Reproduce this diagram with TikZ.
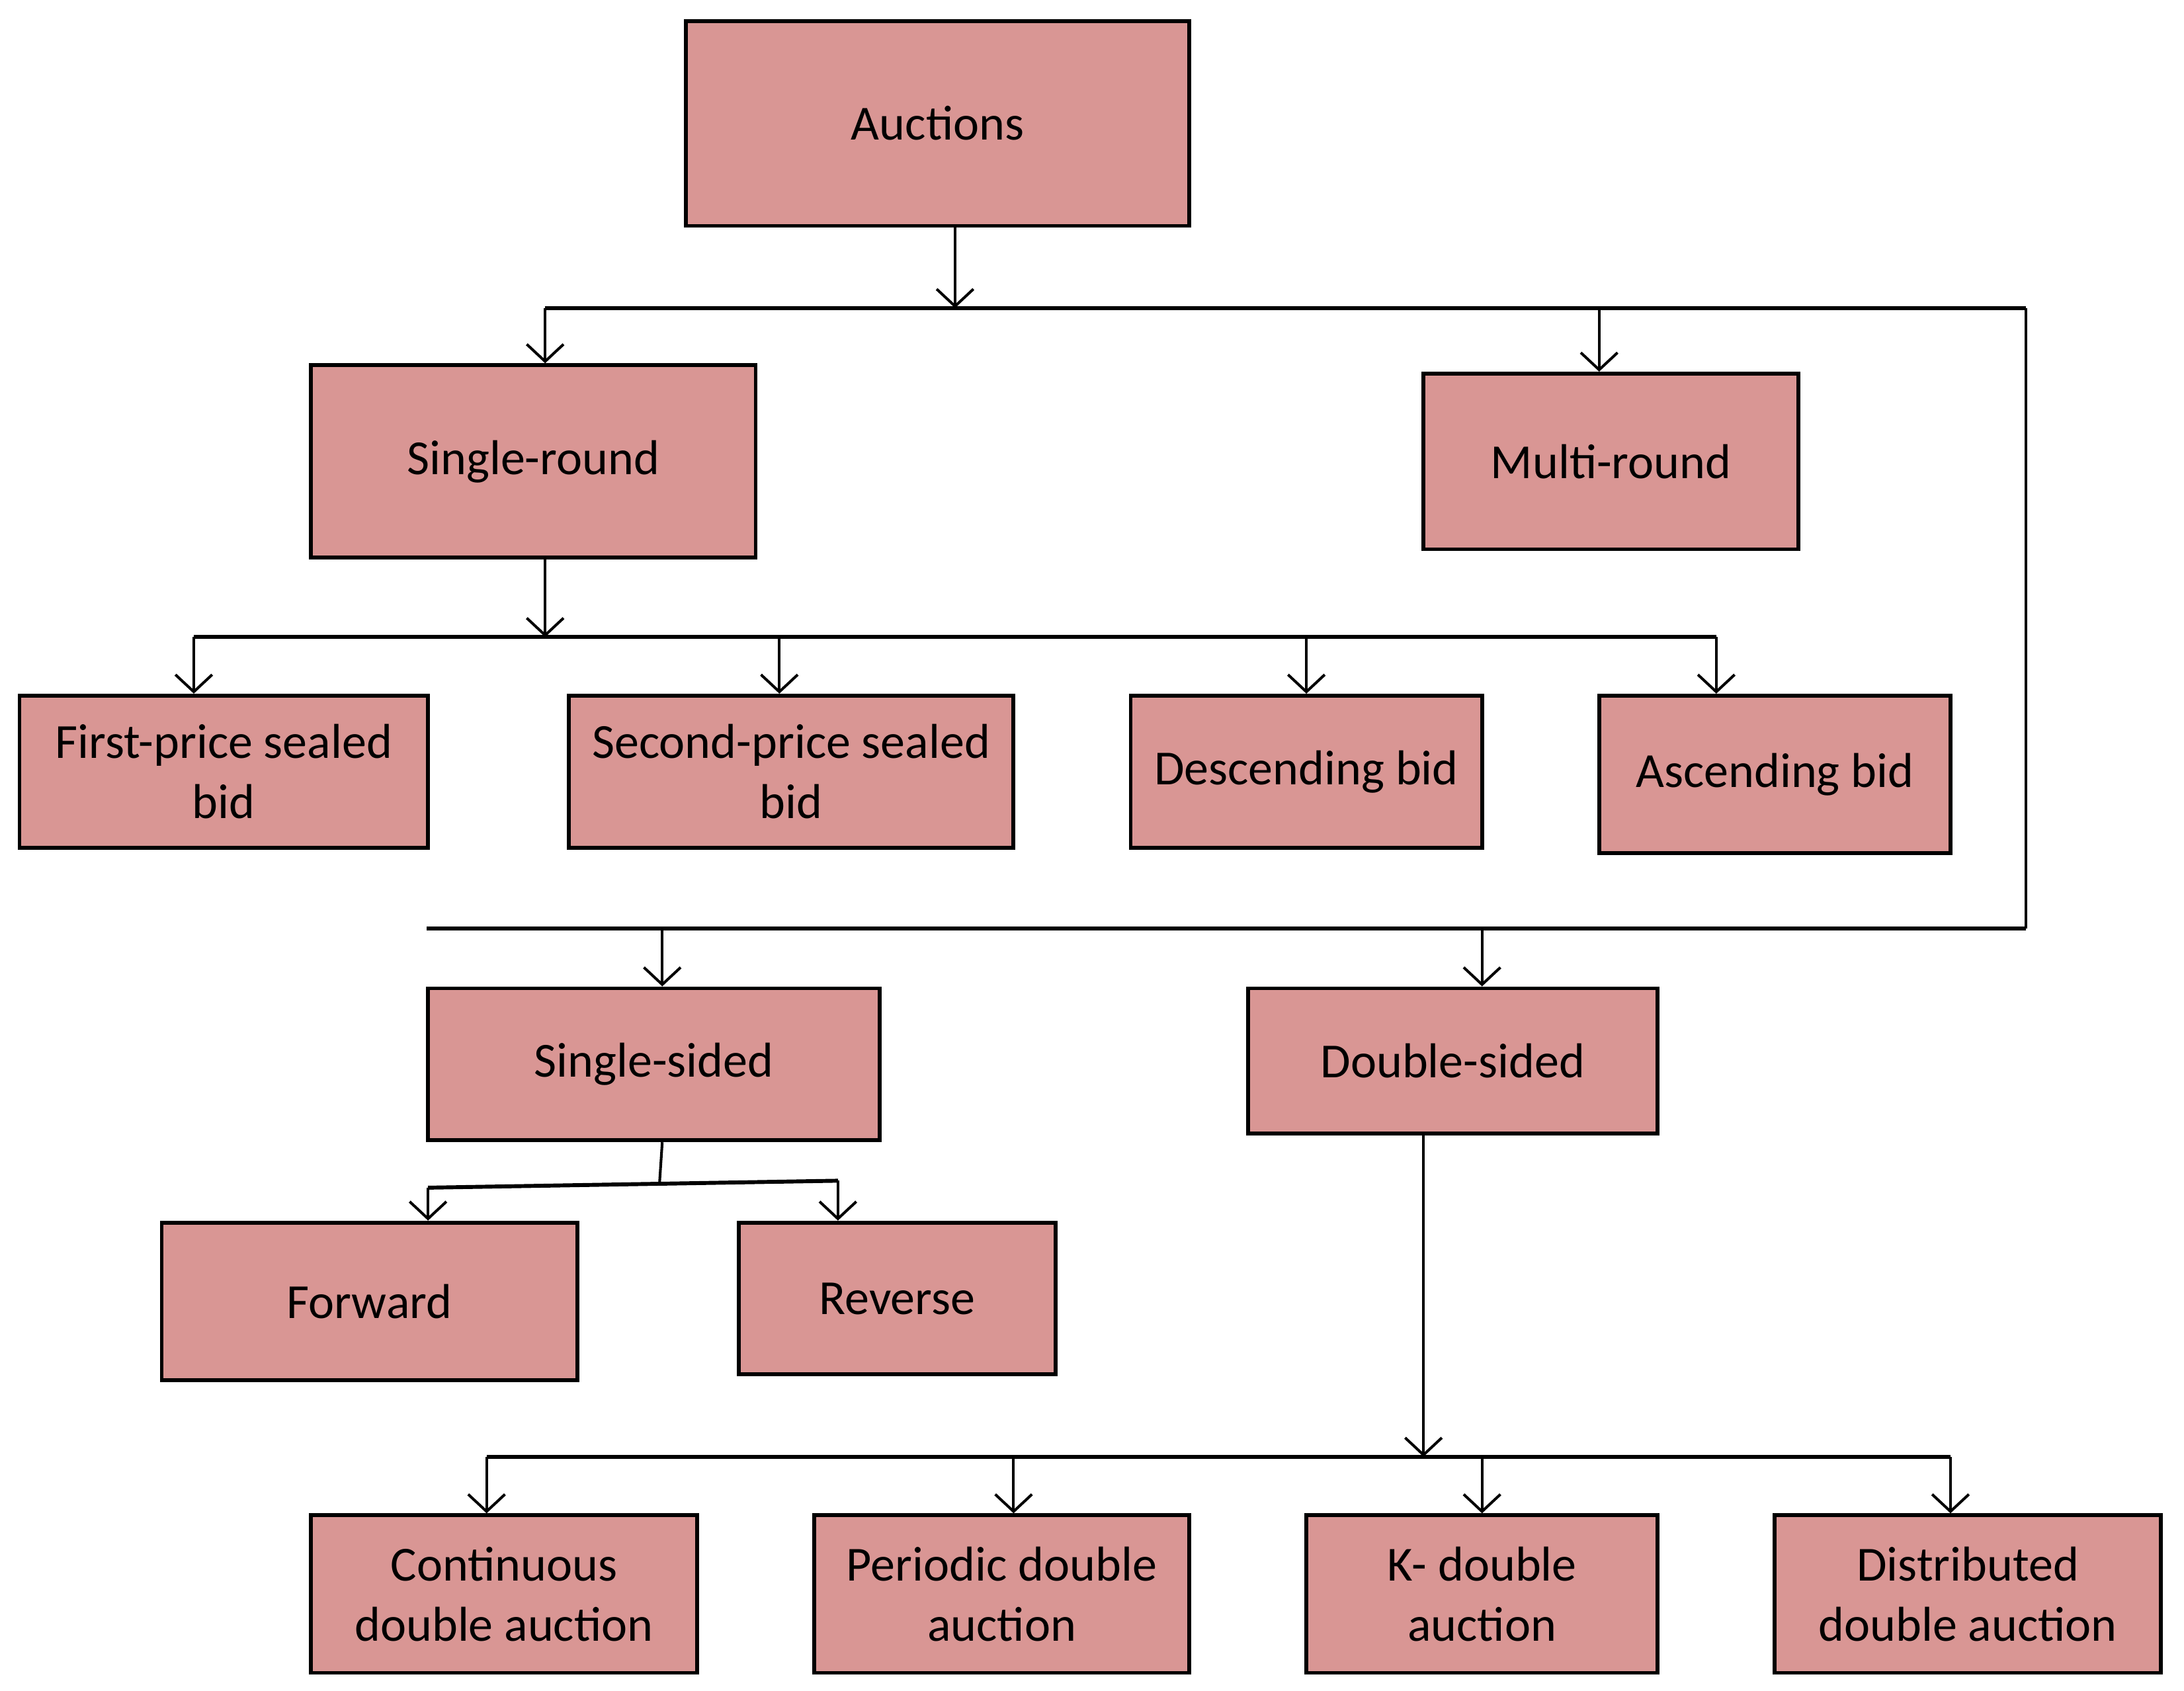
\documentclass[tikz,border=0pt]{standalone}
\usepackage{fontspec}
\setmainfont{Carlito}
\usetikzlibrary{arrows.meta}
\definecolor{boxred}{HTML}{D99694}
\begin{document}
\begin{tikzpicture}[x=0.02cm, y=-0.02cm,
    box/.style 2 args={draw, fill=boxred, line width=1.6pt, align=center, inner sep=0pt,
      font=\fontsize{20}{24.5}\selectfont, minimum width=#1*0.02cm, minimum height=#2*0.02cm},
    link/.style={line width=1.1pt},
    bus/.style={line width=1.6pt},
    arr/.style={line width=1.1pt, -{Straight Barb[length=7pt, width=15pt]}}]
      \useasboundingbox (0,0) rectangle (1566.5,1213);

      \node[box={361}{147}] (auc) at (672.5,88.5) {Auctions};
      \node[box={319}{138}] (sr) at (382.5,331) {Single-round};
      \node[box={269}{126}] (mr) at (1155.5,331) {Multi-round};
      \node[box={293}{109}] (fp) at (160.5,553.5) {First-price sealed\\bid};
      \node[box={319}{109}] (sp) at (567.5,553.5) {Second-price sealed\\bid};
      \node[box={252}{109}] (desc) at (937,553.5) {Descending bid};
      \node[box={252}{113}] (asc) at (1273,555.5) {Ascending bid};
      \node[box={324}{109}] (ss) at (469,763.5) {Single-sided};
      \node[box={294}{104}] (ds) at (1042,761) {Double-sided};
      \node[box={298}{113}] (fw) at (265,933.5) {Forward};
      \node[box={227}{109}] (rv) at (643.5,931.5) {Reverse};
      \node[box={277}{113}] (cda) at (361.5,1143.5) {Continuous\\double auction};
      \node[box={269}{113}] (pda) at (718.5,1143.5) {Periodic double\\auction};
      \node[box={252}{113}] (kda) at (1063,1143.5) {K- double\\auction};
      \node[box={277}{113}] (dda) at (1411.5,1143.5) {Distributed\\double auction};

      \coordinate (j1) at (685,221);
      \coordinate (b1l) at (391,221);
      \coordinate (b1m) at (1147,221);
      \coordinate (b1r) at (1453,221);
      \coordinate (j2) at (391,457);
      \coordinate (b2a) at (139,457);
      \coordinate (b2b) at (559,457);
      \coordinate (b2c) at (937,457);
      \coordinate (b2d) at (1231,457);
      \coordinate (b3r) at (1453,666);
      \coordinate (b3l) at (306,666);
      \coordinate (b3a) at (475,666);
      \coordinate (b3b) at (1063,666);
      \coordinate (j3) at (473,849.5);
      \coordinate (b4a) at (307,852);
      \coordinate (b4b) at (601,847);
      \coordinate (j4) at (1021,1045);
      \coordinate (b5a) at (349,1045);
      \coordinate (b5b) at (727,1045);
      \coordinate (b5c) at (1063,1045);
      \coordinate (b5d) at (1399,1045);

      \draw[arr] (j1 |- auc.south) -- (j1);
      \draw[bus] (b1l) -- (b1r);
      \draw[link] (b1r) -- (b3r);
      \draw[bus] (b3r) -- (b3l);
      \draw[arr] (b1l) -- (b1l |- sr.north);
      \draw[arr] (b1m) -- (b1m |- mr.north);

      \draw[arr] (j2 |- sr.south) -- (j2);
      \draw[bus] (b2a) -- (b2d);
      \draw[arr] (b2a) -- (b2a |- fp.north);
      \draw[arr] (b2b) -- (b2b |- sp.north);
      \draw[arr] (b2c) -- (b2c |- desc.north);
      \draw[arr] (b2d) -- (b2d |- asc.north);

      \draw[arr] (b3a) -- (b3a |- ss.north);
      \draw[arr] (b3b) -- (b3b |- ds.north);

      \draw[link] (475,0 |- ss.south) -- (j3);
      \draw[bus] (b4a) -- (b4b);
      \draw[arr] (b4a) -- (b4a |- fw.north);
      \draw[arr] (b4b) -- (b4b |- rv.north);

      \draw[arr] (j4 |- ds.south) -- (j4);
      \draw[bus] (b5a) -- (b5d);
      \draw[arr] (b5a) -- (b5a |- cda.north);
      \draw[arr] (b5b) -- (b5b |- pda.north);
      \draw[arr] (b5c) -- (b5c |- kda.north);
      \draw[arr] (b5d) -- (b5d |- dda.north);
    \end{tikzpicture}
\end{document}
